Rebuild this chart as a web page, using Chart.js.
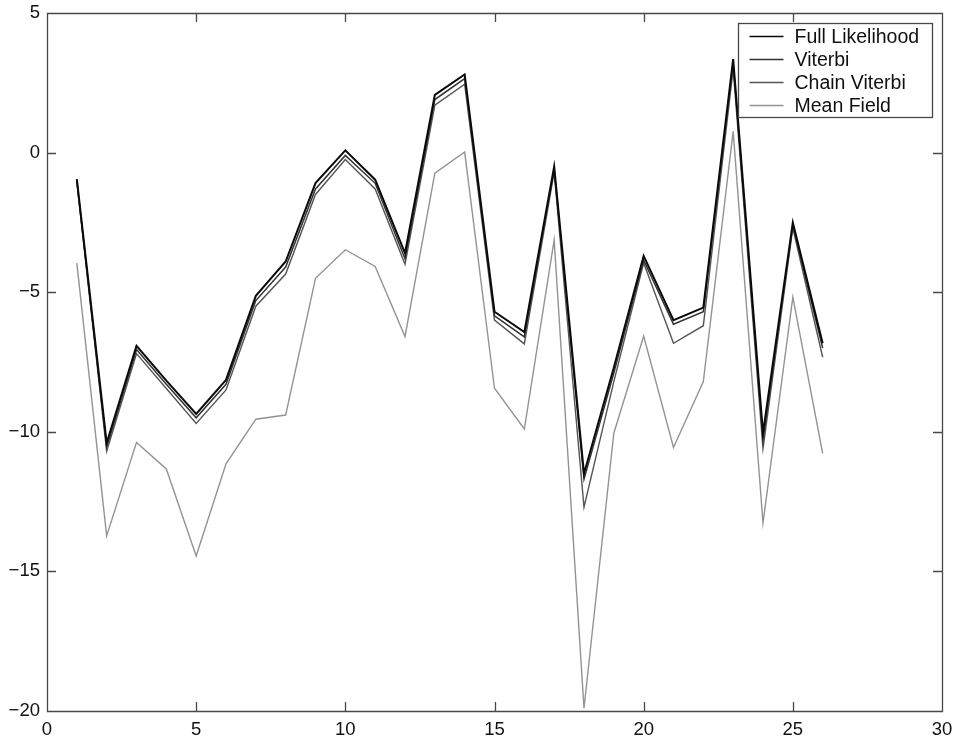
<!DOCTYPE html>
<html>
<head>
<meta charset="utf-8">
<script src="https://cdn.jsdelivr.net/npm/chart.js@4/dist/chart.umd.min.js"></script>
<style>
    html, body { margin: 0; padding: 0; background: #fff; }
    #wrap { width: 959px; height: 739px; }
</style>
</head>
<body>
<div id="wrap"><canvas id="lhChart"></canvas></div>
<script>
// values, one per sequence index 1..26
const xValues = [1, 2, 3, 4, 5, 6, 7, 8, 9, 10, 11, 12, 13, 14, 15, 16, 17, 18, 19, 20, 21, 22, 23, 24, 25, 26];
const fullLikelihood = [-0.95, -10.4, -6.92, -8.17, -9.36, -8.14, -5.13, -3.9, -1.09, 0.08, -0.97, -3.6, 2.07, 2.8, -5.7, -6.43, -0.5, -11.5, -7.7, -3.7, -6.0, -5.55, 3.35, -10.05, -2.5, -6.83];
const viterbi = [-1.0, -10.55, -7.05, -8.3, -9.5, -8.3, -5.3, -4.1, -1.3, -0.1, -1.1, -3.8, 1.9, 2.65, -5.85, -6.6, -0.6, -11.7, -7.9, -3.85, -6.15, -5.7, 3.2, -10.3, -2.6, -7.0];
const chainViterbi = [-1.05, -10.7, -7.2, -8.45, -9.7, -8.5, -5.5, -4.35, -1.5, -0.25, -1.3, -4.0, 1.7, 2.45, -6.0, -6.85, -0.7, -12.7, -8.2, -3.95, -6.83, -6.2, 3.0, -10.6, -2.7, -7.33];
const meanField = [-3.96, -13.73, -10.38, -11.33, -14.45, -11.15, -9.55, -9.4, -4.5, -3.48, -4.08, -6.59, -0.74, 0.02, -8.44, -9.9, -3.13, -19.9, -10.05, -6.57, -10.56, -8.2, 0.76, -13.27, -5.18, -10.77];
const seriesLabels = ["Full Likelihood", "Viterbi", "Chain Viterbi", "Mean Field"];
const xTicks = [0, 5, 10, 15, 20, 25, 30];
const yTicks = [-20, -15, -10, -5, 0, 5];

const FONT = "'Liberation Sans', Arial, Helvetica, sans-serif";
const AXIS_COLOR = "#484848";

function toPoints(ys) {
    return xValues.map((x, i) => ({ x: x, y: ys[i] }));
}

function minusSign(v) {
    return String(v).replace("-", "\u2212");
}

// MATLAB style: box round the axes, short ticks pointing inwards
const boxTicks = {
    id: "boxTicks",
    afterDraw(chart) {
        const ctx = chart.ctx;
        const a = chart.chartArea;
        const xs = chart.scales.x;
        const ys = chart.scales.y;
        const len = 9;
        ctx.save();
        ctx.strokeStyle = AXIS_COLOR;
        ctx.lineWidth = 1.3;
        ctx.beginPath();
        ctx.rect(a.left + 0.5, a.top + 0.5, a.right - a.left, a.bottom - a.top);
        xTicks.forEach((t) => {
            const px = Math.round(xs.getPixelForValue(t)) + 0.5;
            ctx.moveTo(px, a.bottom);
            ctx.lineTo(px, a.bottom - len);
            ctx.moveTo(px, a.top);
            ctx.lineTo(px, a.top + len);
        });
        yTicks.forEach((t) => {
            const py = Math.round(ys.getPixelForValue(t)) + 0.5;
            ctx.moveTo(a.left, py);
            ctx.lineTo(a.left + len, py);
            ctx.moveTo(a.right, py);
            ctx.lineTo(a.right - len, py);
        });
        ctx.stroke();
        ctx.restore();
    },
};

// legend box in the top right corner of the plot
const boxLegend = {
    id: "boxLegend",
    afterDatasetsDraw(chart) {
        const ctx = chart.ctx;
        const left = 738.5;
        const top = 23.5;
        const w = 194;
        const h = 94;
        ctx.save();
        ctx.fillStyle = "#fff";
        ctx.fillRect(left, top, w, h);
        ctx.strokeStyle = AXIS_COLOR;
        ctx.lineWidth = 1.3;
        ctx.strokeRect(left, top, w, h);
        ctx.font = "19.5px " + FONT;
        ctx.textBaseline = "middle";
        ctx.fillStyle = "#111";
        chart.data.datasets.forEach((ds, i) => {
            const y = top + 13 + i * 23;
            ctx.strokeStyle = ds.borderColor;
            ctx.lineWidth = 1.3;
            ctx.beginPath();
            ctx.moveTo(left + 11, y);
            ctx.lineTo(left + 45, y);
            ctx.stroke();
            ctx.fillText(ds.label, left + 56, y + 1);
        });
        ctx.restore();
    },
};

const lhCtx = document.getElementById("lhChart").getContext("2d");

const lhChart = new Chart(lhCtx, {
    type: "line",
    data: {
        datasets: [
            {
                label: seriesLabels[0],
                data: toPoints(fullLikelihood),
                borderColor: "#0a0a0a",
                borderWidth: 2,
            },
            {
                label: seriesLabels[1],
                data: toPoints(viterbi),
                borderColor: "#333333",
                borderWidth: 1.5,
            },
            {
                label: seriesLabels[2],
                data: toPoints(chainViterbi),
                borderColor: "#555555",
                borderWidth: 1.4,
            },
            {
                label: seriesLabels[3],
                data: toPoints(meanField),
                borderColor: "#939393",
                borderWidth: 1.4,
            },
        ],
    },
    options: {
        responsive: true,
        maintainAspectRatio: false,
        animation: false,
        devicePixelRatio: 1,
        elements: {
            point: { radius: 0 },
            line: { tension: 0, fill: false },
        },
        layout: {
            padding: { left: 0, right: 17, top: 13, bottom: 0 },
        },
        plugins: {
            legend: { display: false },
            tooltip: { enabled: false },
        },
        scales: {
            x: {
                type: "linear",
                min: 0,
                max: 30,
                afterBuildTicks: (scale) => {
                    scale.ticks = xTicks.map((v) => ({ value: v }));
                },
                afterFit: (scale) => {
                    scale.height = 28;
                    scale.paddingLeft = 0;
                    scale.paddingRight = 0;
                },
                grid: { display: false, drawTicks: false },
                border: { display: false },
                ticks: {
                    padding: 8,
                    color: "#111",
                    font: { family: FONT, size: 18.5 },
                    maxRotation: 0,
                    autoSkip: false,
                },
            },
            y: {
                type: "linear",
                min: -20,
                max: 5,
                afterBuildTicks: (scale) => {
                    scale.ticks = yTicks.map((v) => ({ value: v }));
                },
                afterFit: (scale) => {
                    scale.width = 47;
                    scale.paddingTop = 0;
                    scale.paddingBottom = 0;
                },
                grid: { display: false, drawTicks: false },
                border: { display: false },
                ticks: {
                    padding: 7,
                    color: "#111",
                    font: { family: FONT, size: 18.5 },
                    callback: (v) => minusSign(v),
                },
            },
        },
    },
    plugins: [boxTicks, boxLegend],
});
</script>
</body>
</html>
